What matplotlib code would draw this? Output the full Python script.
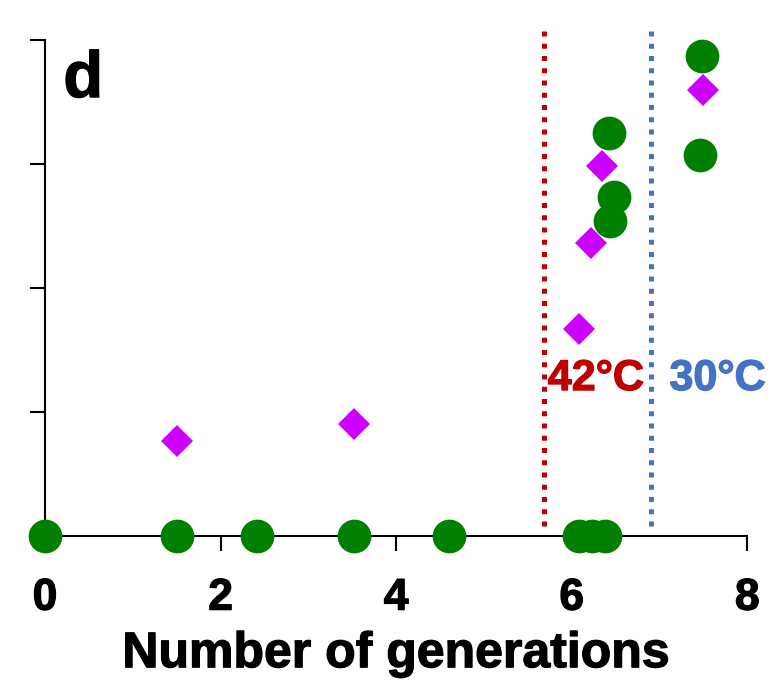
import matplotlib
matplotlib.use('Agg')
from matplotlib import pyplot as plt
import matplotlib.patheffects as pe

plt.rcParams['font.family'] = ['Liberation Sans', 'DejaVu Sans']
plt.rcParams['font.weight'] = 'bold'

# green circles
gen_circle = [0, 1.50, 2.42, 3.52, 4.60, 6.08, 6.23, 6.38, 6.43, 6.48, 6.44, 7.48, 7.46]
val_circle = [0, 0, 0, 0, 0, 0, 0, 0, 3.25, 2.73, 2.54, 3.87, 3.07]

# magenta diamonds
gen_diamond = [1.50, 3.52, 6.08, 6.22, 6.34, 7.49]
val_diamond = [0.77, 0.90, 1.67, 2.36, 2.98, 3.60]

# temperature shift lines
shift_x = [5.68, 6.90]
shift_label = ['42°C', '30°C']
shift_label_x = [6.275, 7.66]
shift_color = ['#C00000', '#4472C4']

x_ticks = [0, 2, 4, 6, 8]
y_ticks = [0, 1, 2, 3, 4]


def heavy(color):
    # a thin outline makes the bold text a little heavier
    return [pe.withStroke(linewidth=0.9, foreground=color)]


fig = plt.figure(figsize=(7.72, 6.91), dpi=100)
ax = fig.add_axes([0.0583, 0.2243, 0.9097, 0.7178])

for x, lab, lx, c in zip(shift_x, shift_label, shift_label_x, shift_color):
    ax.plot([x, x], [4.07, 0.03], color=c, linewidth=3.6,
            linestyle=(0, (1, 1.45)), dash_capstyle='butt', clip_on=False, zorder=2)
    ax.text(lx, 1.177, lab, color=c, fontsize=31, fontweight='bold',
            ha='center', va='baseline', path_effects=heavy(c))

ax.plot(gen_diamond, val_diamond, linestyle='none', marker='D', markersize=16.3,
        color='#CC00FF', markeredgewidth=0, clip_on=False, zorder=3)
ax.plot(gen_circle, val_circle, linestyle='none', marker='o', markersize=24.3,
        color='#008000', markeredgewidth=0, clip_on=False, zorder=4)

ax.text(0.026, 0.885, 'd', transform=ax.transAxes, fontsize=47,
        fontweight='bold', ha='left', va='baseline', path_effects=heavy('black'))

ax.set_xlim(0, 8)
ax.set_ylim(0, 4)
ax.set_xticks(x_ticks)
ax.set_yticks(y_ticks)
ax.set_yticklabels([])
ax.spines['top'].set_visible(False)
ax.spines['right'].set_visible(False)
for s in ['left', 'bottom']:
    ax.spines[s].set_linewidth(1.5)
ax.tick_params(axis='both', direction='out', length=10.5, width=1.5)
ax.tick_params(axis='x', labelsize=32, pad=19.5)
for t in ax.get_xticklabels():
    t.set_path_effects(heavy('black'))

ax.set_xlabel('Number of generations', fontsize=36, fontweight='bold', labelpad=9,
              path_effects=heavy('black'))

plt.savefig('out.png')
